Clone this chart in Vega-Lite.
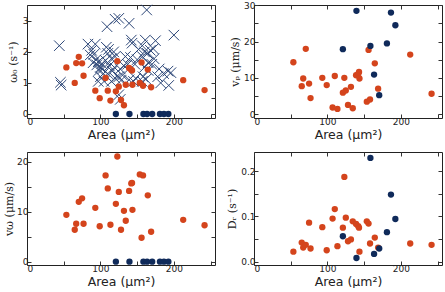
{
  "$schema": "https://vega.github.io/schema/vega-lite/v6.json",
  "padding": {"left": 3, "top": 0, "right": 1, "bottom": 0},
  "autosize": {"type": "pad"},
  "background": "white",
  "config": {
    "view": {"stroke": "#222", "strokeWidth": 1},
    "axis": {
      "grid": false, "domain": false, "tickSize": -4, "tickColor": "#333", "tickWidth": 1,
      "labelFont": "DejaVu Sans", "labelFontSize": 9, "labelColor": "#222", "labelPadding": 3,
      "titleFont": "DejaVu Sans", "titleFontSize": 12.5, "titleFontWeight": "normal", "titleColor": "#222"
    }
  },
  "datasets": {
    "cells": [
      {"group": "R", "area": 53.6, "omega": 1.5, "vp": 14.3, "vw": 9.4, "dr": 0.022},
      {"group": "R", "area": 65, "omega": 1.0, "vp": 7.7, "vw": 6.4, "dr": 0.042},
      {"group": "R", "area": 67, "omega": 1.64, "vp": 9.8, "vw": 7.6, "dr": 0.031},
      {"group": "R", "area": 70.5, "omega": 1.84, "vp": 18.0, "vw": 12.0, "dr": 0.037},
      {"group": "R", "area": 75, "omega": 1.63, "vp": 8.4, "vw": 12.7, "dr": 0.086},
      {"group": "R", "area": 77, "omega": 1.23, "vp": 4.4, "vw": 7.6, "dr": 0.029},
      {"group": "R", "area": 93, "omega": 0.75, "vp": 10.0, "vw": 10.8, "dr": 0.076},
      {"group": "R", "area": 99, "omega": 0.51, "vp": 8.0, "vw": 7.1, "dr": 0.025},
      {"group": "R", "area": 107, "omega": 1.16, "vp": 1.8, "vw": 17.3, "dr": 0.095},
      {"group": "R", "area": 110, "omega": 0.75, "vp": 10.5, "vw": 14.7, "dr": 0.116},
      {"group": "R", "area": 113.6, "omega": 0.43, "vp": 1.4, "vw": 7.4, "dr": 0.034},
      {"group": "R", "area": 121, "omega": 0.73, "vp": 5.9, "vw": 11.6, "dr": 0.075},
      {"group": "R", "area": 123, "omega": 1.7, "vp": 10.0, "vw": 21.1, "dr": 0.187},
      {"group": "R", "area": 125, "omega": 0.88, "vp": 6.5, "vw": 14.0, "dr": 0.097},
      {"group": "R", "area": 128, "omega": 0.45, "vp": 2.5, "vw": 6.4, "dr": 0.045},
      {"group": "R", "area": 132, "omega": 0.28, "vp": 7.5, "vw": 10.2, "dr": 0.049},
      {"group": "R", "area": 134.5, "omega": 0.94, "vp": 1.6, "vw": 8.2, "dr": 0.089},
      {"group": "R", "area": 139, "omega": 1.48, "vp": 10.7, "vw": 14.2, "dr": 0.083},
      {"group": "R", "area": 142, "omega": 1.42, "vp": 11.1, "vw": 15.7, "dr": 0.078},
      {"group": "R", "area": 143, "omega": 1.4, "vp": 11.6, "vw": 15.8, "dr": 0.075},
      {"group": "R", "area": 143.6, "omega": 0.94, "vp": 9.8, "vw": 10.4, "dr": 0.022},
      {"group": "R", "area": 153.6, "omega": 1.0, "vp": 3.4, "vw": 17.5, "dr": 0.089},
      {"group": "R", "area": 156, "omega": 1.66, "vp": 17.7, "vw": 4.8, "dr": 0.084},
      {"group": "R", "area": 158, "omega": 0.91, "vp": 4.0, "vw": 17.3, "dr": 0.040},
      {"group": "R", "area": 164.5, "omega": 1.43, "vp": 14.0, "vw": 13.3, "dr": 0.053},
      {"group": "R", "area": 169, "omega": 0.86, "vp": 7.0, "vw": 6.0, "dr": 0.031},
      {"group": "R", "area": 212.7, "omega": 1.09, "vp": 16.4, "vw": 8.4, "dr": 0.040},
      {"group": "R", "area": 241.8, "omega": 0.77, "vp": 5.6, "vw": 7.3, "dr": 0.037},
      {"group": "N", "area": 121, "omega": 0, "vp": 17.9, "vw": 0, "dr": 0.056},
      {"group": "N", "area": 139.5, "omega": 0, "vp": 28.5, "vw": 0, "dr": 0.008},
      {"group": "N", "area": 158.5, "omega": 0, "vp": 18.8, "vw": 0, "dr": 0.229},
      {"group": "N", "area": 163.5, "omega": 0, "vp": 10.9, "vw": 0, "dr": 0.017},
      {"group": "N", "area": 170.5, "omega": 0, "vp": 5.2, "vw": 0, "dr": 0.029},
      {"group": "N", "area": 181, "omega": 0, "vp": 19.5, "vw": 0, "dr": 0.065},
      {"group": "N", "area": 186.5, "omega": 0, "vp": 28.0, "vw": 0, "dr": 0.148},
      {"group": "N", "area": 192.5, "omega": 0, "vp": 24.5, "vw": 0, "dr": 0.094}
    ],
    "crosses": [
      {"area": 44, "omega": 2.2}, {"area": 45.5, "omega": 1.02}, {"area": 46.5, "omega": 0.93},
      {"area": 109, "omega": 2.81}, {"area": 120, "omega": 3.05}, {"area": 125, "omega": 3.08},
      {"area": 139, "omega": 2.92}, {"area": 163, "omega": 3.35}, {"area": 200, "omega": 2.54},
      {"area": 83, "omega": 2.25}, {"area": 93, "omega": 2.25}, {"area": 88, "omega": 2.05},
      {"area": 86, "omega": 1.9}, {"area": 91, "omega": 1.92}, {"area": 94, "omega": 1.75},
      {"area": 90, "omega": 1.65}, {"area": 97, "omega": 1.68}, {"area": 95, "omega": 1.58},
      {"area": 100, "omega": 1.5}, {"area": 103, "omega": 1.45}, {"area": 98, "omega": 1.4},
      {"area": 102, "omega": 1.62}, {"area": 104, "omega": 1.3}, {"area": 100, "omega": 1.2},
      {"area": 105, "omega": 1.05}, {"area": 97, "omega": 1.05},
      {"area": 108, "omega": 2.15}, {"area": 111, "omega": 2.08}, {"area": 110, "omega": 1.95},
      {"area": 118, "omega": 2.0}, {"area": 120, "omega": 1.85}, {"area": 115, "omega": 1.78},
      {"area": 107, "omega": 1.72}, {"area": 112, "omega": 1.55}, {"area": 119, "omega": 1.5},
      {"area": 116, "omega": 1.38}, {"area": 110, "omega": 1.3}, {"area": 120, "omega": 1.15},
      {"area": 125, "omega": 1.2}, {"area": 115, "omega": 1.05}, {"area": 128, "omega": 1.08},
      {"area": 130, "omega": 1.25}, {"area": 127, "omega": 1.45}, {"area": 132, "omega": 1.55},
      {"area": 134, "omega": 1.85}, {"area": 125, "omega": 0.62}, {"area": 127, "omega": 0.47},
      {"area": 142, "omega": 2.38}, {"area": 143, "omega": 2.28}, {"area": 141, "omega": 1.82},
      {"area": 137, "omega": 1.6}, {"area": 139, "omega": 1.1}, {"area": 145, "omega": 1.05},
      {"area": 148, "omega": 1.15}, {"area": 150, "omega": 1.75}, {"area": 152, "omega": 2.08},
      {"area": 157, "omega": 2.2}, {"area": 161, "omega": 2.38}, {"area": 160, "omega": 2.0},
      {"area": 164, "omega": 1.95}, {"area": 168, "omega": 2.05}, {"area": 172, "omega": 2.1},
      {"area": 175, "omega": 2.36}, {"area": 157, "omega": 1.85}, {"area": 165, "omega": 1.65},
      {"area": 170, "omega": 1.6}, {"area": 173, "omega": 1.78}, {"area": 160, "omega": 1.5},
      {"area": 165, "omega": 1.4}, {"area": 158, "omega": 1.2}, {"area": 162, "omega": 1.12},
      {"area": 157, "omega": 1.05}, {"area": 147, "omega": 1.6},
      {"area": 178, "omega": 1.2}, {"area": 182, "omega": 1.0}, {"area": 186, "omega": 1.3},
      {"area": 192, "omega": 1.38}, {"area": 196, "omega": 1.33}, {"area": 193, "omega": 0.92},
      {"area": 180, "omega": 1.45}
    ]
  },
  "columns": 2,
  "bounds": "flush",
  "spacing": {"row": 34, "column": 39},
  "concat": [
    {
      "width": 188, "height": 113,
      "resolve": {"axis": {"x": "independent", "y": "independent"}},
      "layer": [
        {
          "data": {"name": "crosses"},
          "mark": {"type": "point", "shape": "M-1,-1L1,1M-1,1L1,-1", "filled": false, "size": 110, "strokeWidth": 1, "color": "#2c4677", "opacity": 1},
          "encoding": {
            "x": {"field": "area", "type": "quantitative", "scale": {"domain": [0, 256], "nice": false, "zero": false},
                  "axis": {"values": [0, 50, 100, 150, 200, 250], "labelExpr": "datum.value % 100 == 0 ? datum.label : ''", "title": "Area (μm²)", "titlePadding": 2}},
            "y": {"field": "omega", "type": "quantitative", "scale": {"domain": [-0.13, 3.51], "nice": false, "zero": false},
                  "axis": {"values": [0, 0.5, 1, 1.5, 2, 2.5, 3, 3.5], "format": "d", "labelExpr": "datum.value % 1 == 0 ? datum.label : ''", "title": "ω₀ (s⁻¹)", "titleFont": "DejaVu Serif", "titleFontSize": 11, "titlePadding": 4}}
          }
        },
        {
          "data": {"name": "cells"},
          "transform": [{"filter": "datum.group == 'R'"}],
          "mark": {"type": "circle", "size": 40, "color": "#d4441c", "opacity": 1},
          "encoding": {
            "x": {"field": "area", "type": "quantitative", "axis": null},
            "y": {"field": "omega", "type": "quantitative", "axis": null}
          }
        },
        {
          "data": {"name": "cells"},
          "transform": [{"filter": "datum.group == 'N'"}],
          "mark": {"type": "circle", "size": 40, "color": "#0f2a5a", "opacity": 1},
          "encoding": {
            "x": {"field": "area", "type": "quantitative", "axis": {"orient": "top", "values": [0, 50, 100, 150, 200, 250], "labels": false, "title": null}},
            "y": {"field": "omega", "type": "quantitative", "axis": {"orient": "right", "values": [0, 0.5, 1, 1.5, 2, 2.5, 3, 3.5], "labels": false, "title": null}}
          }
        }
      ]
    },
    {
      "width": 188, "height": 113,
      "resolve": {"axis": {"x": "independent", "y": "independent"}},
      "layer": [
        {
          "data": {"name": "cells"},
          "transform": [{"filter": "datum.group == 'R'"}],
          "mark": {"type": "circle", "size": 40, "color": "#d4441c", "opacity": 1},
          "encoding": {
            "x": {"field": "area", "type": "quantitative", "scale": {"domain": [0, 256], "nice": false, "zero": false},
                  "axis": {"values": [0, 50, 100, 150, 200, 250], "labelExpr": "datum.value % 100 == 0 ? datum.label : ''", "title": "Area (μm²)", "titlePadding": 2}},
            "y": {"field": "vp", "type": "quantitative", "scale": {"domain": [-1.1, 30.1], "nice": false, "zero": false},
                  "axis": {"values": [0, 5, 10, 15, 20, 25, 30], "format": "d", "labelExpr": "datum.value % 10 == 0 ? datum.label : ''", "title": "vₚ (μm/s)", "titleFont": "DejaVu Serif", "titleFontSize": 11, "titlePadding": 3}}
          }
        },
        {
          "data": {"name": "cells"},
          "transform": [{"filter": "datum.group == 'N'"}],
          "mark": {"type": "circle", "size": 40, "color": "#0f2a5a", "opacity": 1},
          "encoding": {
            "x": {"field": "area", "type": "quantitative", "axis": {"orient": "top", "values": [0, 50, 100, 150, 200, 250], "labels": false, "title": null}},
            "y": {"field": "vp", "type": "quantitative", "axis": {"orient": "right", "values": [0, 5, 10, 15, 20, 25, 30], "labels": false, "title": null}}
          }
        }
      ]
    },
    {
      "width": 188, "height": 113,
      "resolve": {"axis": {"x": "independent", "y": "independent"}},
      "layer": [
        {
          "data": {"name": "cells"},
          "transform": [{"filter": "datum.group == 'R'"}],
          "mark": {"type": "circle", "size": 40, "color": "#d4441c", "opacity": 1},
          "encoding": {
            "x": {"field": "area", "type": "quantitative", "scale": {"domain": [0, 256], "nice": false, "zero": false},
                  "axis": {"values": [0, 50, 100, 150, 200, 250], "labelExpr": "datum.value % 100 == 0 ? datum.label : ''", "title": "Area (μm²)", "titlePadding": 2}},
            "y": {"field": "vw", "type": "quantitative", "scale": {"domain": [-0.67, 22], "nice": false, "zero": false},
                  "axis": {"values": [0, 5, 10, 15, 20], "format": "d", "labelExpr": "datum.value % 10 == 0 ? datum.label : ''", "title": "vω (μm/s)", "titleFont": "DejaVu Serif", "titleFontSize": 11, "titlePadding": 2}}
          }
        },
        {
          "data": {"name": "cells"},
          "transform": [{"filter": "datum.group == 'N'"}],
          "mark": {"type": "circle", "size": 40, "color": "#0f2a5a", "opacity": 1},
          "encoding": {
            "x": {"field": "area", "type": "quantitative", "axis": {"orient": "top", "values": [0, 50, 100, 150, 200, 250], "labels": false, "title": null}},
            "y": {"field": "vw", "type": "quantitative", "axis": {"orient": "right", "values": [0, 5, 10, 15, 20], "labels": false, "title": null}}
          }
        }
      ]
    },
    {
      "width": 188, "height": 113,
      "resolve": {"axis": {"x": "independent", "y": "independent"}},
      "layer": [
        {
          "data": {"name": "cells"},
          "transform": [{"filter": "datum.group == 'R'"}],
          "mark": {"type": "circle", "size": 40, "color": "#d4441c", "opacity": 1},
          "encoding": {
            "x": {"field": "area", "type": "quantitative", "scale": {"domain": [0, 256], "nice": false, "zero": false},
                  "axis": {"values": [0, 50, 100, 150, 200, 250], "labelExpr": "datum.value % 100 == 0 ? datum.label : ''", "title": "Area (μm²)", "titlePadding": 2}},
            "y": {"field": "dr", "type": "quantitative", "scale": {"domain": [-0.0075, 0.242], "nice": false, "zero": false},
                  "axis": {"values": [0, 0.05, 0.1, 0.15, 0.2], "format": ".1f", "labelExpr": "abs(datum.value * 10 - round(datum.value * 10)) < 0.001 ? datum.label : ''", "title": "Dᵣ (s⁻¹)", "titleFont": "DejaVu Serif", "titleFontSize": 11, "titlePadding": 3}}
          }
        },
        {
          "data": {"name": "cells"},
          "transform": [{"filter": "datum.group == 'N'"}],
          "mark": {"type": "circle", "size": 40, "color": "#0f2a5a", "opacity": 1},
          "encoding": {
            "x": {"field": "area", "type": "quantitative", "axis": {"orient": "top", "values": [0, 50, 100, 150, 200, 250], "labels": false, "title": null}},
            "y": {"field": "dr", "type": "quantitative", "axis": {"orient": "right", "values": [0, 0.05, 0.1, 0.15, 0.2], "labels": false, "title": null}}
          }
        }
      ]
    }
  ]
}
